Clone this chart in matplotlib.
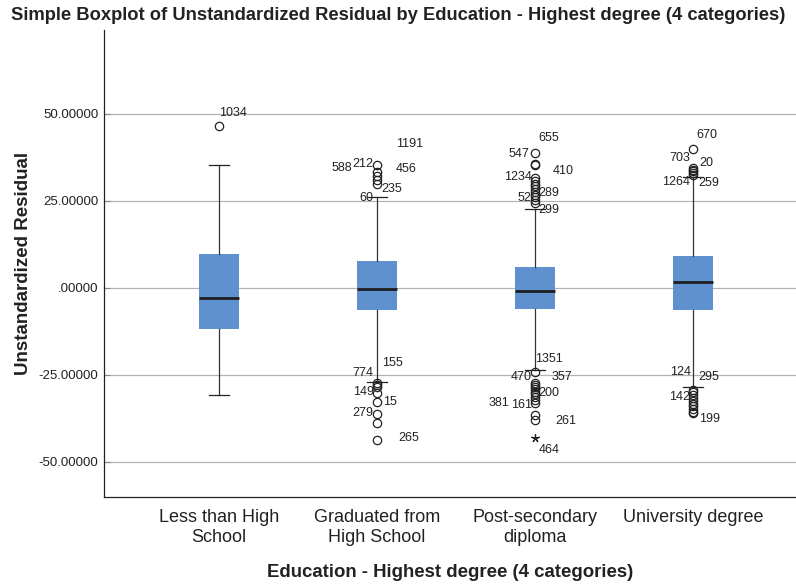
import matplotlib.pyplot as plt
from matplotlib.ticker import FuncFormatter

plt.rcParams['font.family'] = ['Liberation Sans', 'DejaVu Sans']

# categories
categories = ['Less than High\nSchool', 'Graduated from\nHigh School',
              'Post-secondary\ndiploma', 'University degree']

# box statistics
q1 = [-11.8, -6.3, -6.0, -6.3]
medians = [-3.0, -0.4, -0.8, 1.6]
q3 = [9.8, 7.8, 6.0, 9.2]
whisker_low = [-30.8, -27.1, -23.6, -28.5]
whisker_high = [35.3, 26.2, 22.7, 31.9]

# outliers (circles) per group
outliers = [
    [46.4],
    [35.3, 33.3, 32.2, 31.0, 30.0,
     -27.4, -28.0, -28.6, -30.3, -32.9, -36.2, -38.9, -43.7],
    [38.9, 35.5, 35.2, 31.6, 30.8, 30.0, 29.2, 28.4, 27.6, 26.8, 26.0, 25.2, 24.4,
     -24.1, -27.3, -27.9, -28.5, -29.1, -29.8, -30.5, -31.3, -32.1, -33.0, -36.5, -37.9],
    [39.9, 34.5, 34.0, 33.5, 33.0, 32.5,
     -29.3, -30.0, -30.8, -31.6, -32.4, -33.2, -34.0, -34.8, -35.5, -35.9],
]

# extreme values (asterisks) per group
extremes = [[], [], [-43.1], []]

# case labels: (text, group index, y value, x offset in pixels)
case_labels = [
    ('1034', 0, 50.3, 14),
    ('1191', 1, 41.4, 32), ('588', 1, 34.5, -35), ('212', 1, 35.6, -14),
    ('456', 1, 34.2, 29), ('235', 1, 28.5, 15), ('60', 1, 25.9, -11),
    ('155', 1, -21.6, 15), ('774', 1, -24.4, -14), ('149', 1, -29.9, -14),
    ('15', 1, -32.8, 13), ('279', 1, -35.9, -14), ('265', 1, -43.1, 32),
    ('655', 2, 43.1, 14), ('547', 2, 38.5, -16), ('410', 2, 33.6, 28),
    ('1234', 2, 31.9, -17), ('289', 2, 27.3, 14), ('52', 2, 25.9, -11),
    ('299', 2, 22.4, 14),
    ('1351', 2, -20.4, 14), ('470', 2, -25.6, -14), ('357', 2, -25.6, 27),
    ('200', 2, -30.2, 14), ('381', 2, -33.1, -36), ('161', 2, -33.6, -14),
    ('261', 2, -38.2, 31), ('464', 2, -46.6, 14),
    ('670', 3, 44.0, 14), ('703', 3, 37.4, -13), ('20', 3, 35.9, 13),
    ('1264', 3, 30.5, -17), ('259', 3, 30.2, 15),
    ('124', 3, -24.1, -13), ('295', 3, -25.6, 15), ('142', 3, -31.3, -14),
    ('199', 3, -37.6, 16),
]

yticks = [-50, -25, 0, 25, 50]

fig = plt.figure(figsize=(7.96, 5.87), dpi=100)
ax = fig.add_axes([104 / 796, 1 - 497 / 587, 1 - 104 / 796, (497 - 30) / 587])

positions = [1, 2, 3, 4]
stats = []
for i in range(len(categories)):
    stats.append({
        'med': medians[i], 'q1': q1[i], 'q3': q3[i],
        'whislo': whisker_low[i], 'whishi': whisker_high[i],
        'fliers': outliers[i], 'label': categories[i],
    })

ax.bxp(stats, positions=positions, widths=0.253, patch_artist=True,
       showfliers=True, capwidths=0.127,
       boxprops=dict(facecolor='#5E91CE', edgecolor='none'),
       medianprops=dict(color='#1E1E1E', linewidth=2.0, solid_capstyle='butt'),
       whiskerprops=dict(color='#333333', linewidth=0.9),
       capprops=dict(color='#222222', linewidth=0.9),
       flierprops=dict(marker='o', markersize=6, markerfacecolor='none',
                       markeredgecolor='#222222', markeredgewidth=0.9))

for i, ext in enumerate(extremes):
    if ext:
        ax.plot([positions[i]] * len(ext), ext, linestyle='none',
                marker=(5, 2, 0), markersize=6, color='#222222',
                markeredgewidth=0.9)

for text, g, yv, dx in case_labels:
    ax.annotate(text, xy=(positions[g], yv), xytext=(dx, 0),
                textcoords='offset pixels', ha='center', va='center',
                fontsize=9, color='#222222')

ax.set_xlim(0.272, 4.65)
ax.set_ylim(-60.06, 74.1)

ax.set_yticks(yticks)


def fmt(v, pos):
    s = '%.5f' % v
    if s.startswith('0.'):
        s = s[1:]
    return s


ax.yaxis.set_major_formatter(FuncFormatter(fmt))
ax.tick_params(axis='y', direction='in', length=4, color='#888888',
               labelsize=9.5, pad=4, labelcolor='#222222')
ax.tick_params(axis='x', length=0, labelsize=13, pad=9, labelcolor='#222222')
ax.set_xticks(positions)
ax.set_xticklabels(categories)

ax.yaxis.grid(True, color='#B4B4B4', linewidth=0.9)
ax.set_axisbelow(True)
for side in ['top', 'right']:
    ax.spines[side].set_visible(False)
for side in ['left', 'bottom']:
    ax.spines[side].set_color('#222222')
    ax.spines[side].set_linewidth(0.9)

ax.set_ylabel('Unstandardized Residual', fontsize=13.5, fontweight='bold',
              color='#222222', labelpad=5)
ax.set_xlabel('Education - Highest degree (4 categories)', fontsize=13.4,
              fontweight='bold', color='#222222', labelpad=13)
fig.text(0.5, 1 - 16 / 587, 'Simple Boxplot of Unstandardized Residual by Education - '
         'Highest degree (4 categories)', ha='center', va='center',
         fontsize=13.2, fontweight='bold', color='#222222')

fig.savefig('out.png', dpi=100)
